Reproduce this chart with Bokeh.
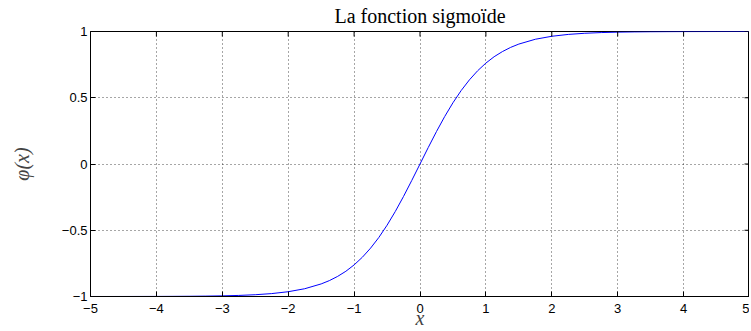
import math
from bokeh.plotting import figure
from bokeh.models import Range1d, FixedTicker, Title
from bokeh.embed import file_html
from bokeh.resources import INLINE

# values
x_vals = [-5.0, -4.75, -4.5, -4.25, -4.0, -3.75, -3.5, -3.25, -3.0, -2.75, -2.5, -2.25,
          -2.0, -1.75, -1.5, -1.375, -1.25, -1.125, -1.0, -0.875, -0.75, -0.625, -0.5,
          -0.375, -0.25, -0.125, 0.0, 0.125, 0.25, 0.375, 0.5, 0.625, 0.75, 0.875, 1.0,
          1.125, 1.25, 1.375, 1.5, 1.75, 2.0, 2.25, 2.5, 2.75, 3.0, 3.25, 3.5, 3.75, 4.0,
          4.25, 4.5, 4.75, 5.0]
y_vals = [-0.9999, -0.9999, -0.9998, -0.9996, -0.9993, -0.9989, -0.9982, -0.9970, -0.9951,
          -0.9919, -0.9866, -0.9780, -0.9640, -0.9414, -0.9051, -0.8800, -0.8483, -0.8096,
          -0.7616, -0.7039, -0.6351, -0.5546, -0.4621, -0.3584, -0.2449, -0.1244, 0.0,
          0.1244, 0.2449, 0.3584, 0.4621, 0.5546, 0.6351, 0.7039, 0.7616, 0.8096, 0.8483,
          0.8800, 0.9051, 0.9414, 0.9640, 0.9780, 0.9866, 0.9919, 0.9951, 0.9970, 0.9982,
          0.9989, 0.9993, 0.9996, 0.9998, 0.9999, 0.9999]
x_ticks = [-5, -4, -3, -2, -1, 0, 1, 2, 3, 4, 5]
x_tick_labels = ["\u22125", "\u22124", "\u22123", "\u22122", "\u22121", "0", "1", "2", "3", "4", "5"]
y_ticks = [-1, -0.5, 0, 0.5, 1]
y_tick_labels = ["\u22121", "\u22120.5", "0", "0.5", "1"]
title_text = "La fonction sigmoïde"
x_label = "x"
y_label = "\u03c6(x)"

p = figure(frame_width=659, frame_height=265, output_backend="svg", toolbar_location=None,
           x_range=Range1d(x_ticks[0], x_ticks[-1]), y_range=Range1d(y_ticks[0], y_ticks[-1]),
           min_border_left=90, min_border_top=31, min_border_right=0, min_border_bottom=35)

p.title = Title(text=title_text, text_font="Liberation Serif", text_font_size="20px",
                text_font_style="normal", align="center", text_color="black", offset=0,
                standoff=5, vertical_align="top")

p.line(x_vals, y_vals, line_color="blue", line_width=1)

# inner ticks on the top and right borders of the box
p.ray(x=x_ticks, y=y_ticks[-1], length=5, length_units="screen", angle=-math.pi / 2,
      line_color="black", line_width=1)
p.ray(x=x_ticks[-1], y=y_ticks, length=5, length_units="screen", angle=math.pi,
      line_color="black", line_width=1)

p.outline_line_color = "black"
p.outline_line_width = 1
p.outline_line_alpha = 1

for ax in p.xaxis:
    ax.ticker = FixedTicker(ticks=x_ticks)
    ax.major_label_overrides = {t: l for t, l in zip(x_ticks, x_tick_labels)}
    ax.axis_label = x_label
    ax.axis_label_text_font = "Liberation Serif"
    ax.axis_label_text_font_style = "italic"
    ax.axis_label_text_font_size = "20px"
    ax.axis_label_standoff = -9
    ax.major_label_standoff = 7
for ax in p.yaxis:
    ax.ticker = FixedTicker(ticks=y_ticks)
    ax.major_label_overrides = {t: l for t, l in zip(y_ticks, y_tick_labels)}
    ax.axis_label = y_label
    ax.axis_label_text_font = "Liberation Serif"
    ax.axis_label_text_font_style = "italic"
    ax.axis_label_text_font_size = "20px"
    ax.axis_label_standoff = 26
    ax.major_label_standoff = 3

for ax in p.xaxis + p.yaxis:
    ax.major_tick_in = 5
    ax.major_tick_out = 0
    ax.minor_tick_in = 0
    ax.minor_tick_out = 0
    ax.axis_line_color = "black"
    ax.major_tick_line_color = "black"
    ax.major_label_text_font = "Liberation Sans"
    ax.major_label_text_font_size = "13px"
    ax.major_label_text_color = "black"

for g in p.xgrid + p.ygrid:
    g.grid_line_color = "black"
    g.grid_line_alpha = 0.7
    g.grid_line_dash = "1 3"
    g.grid_line_width = 1
p.xgrid.ticker = FixedTicker(ticks=x_ticks)
p.ygrid.ticker = FixedTicker(ticks=y_ticks)

open("out.html", "w").write(file_html(p, INLINE))
